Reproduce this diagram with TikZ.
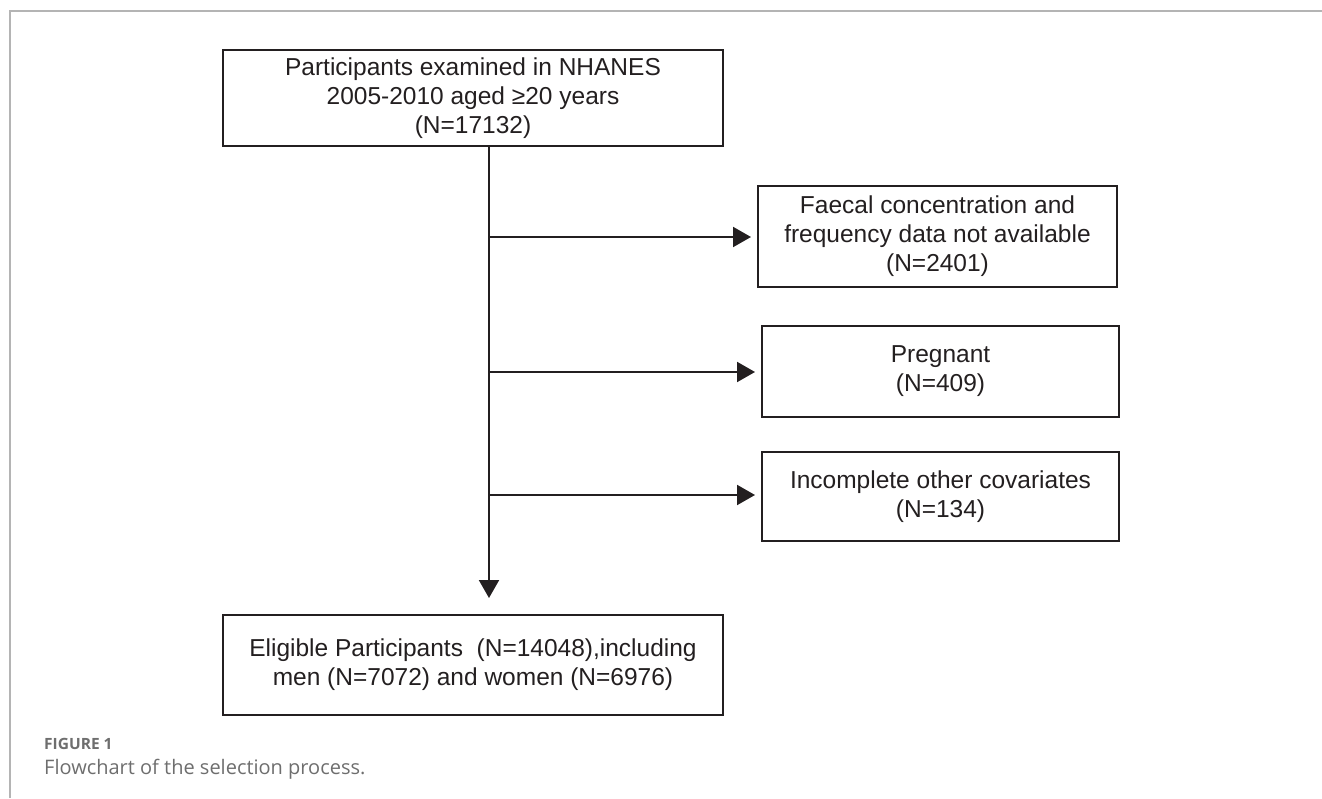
\documentclass[tikz,border=0pt]{standalone}
\usepackage{fontspec}
\usepackage{xcolor}
\usetikzlibrary{arrows.meta}
\setmainfont{Liberation Sans}
\newfontfamily\capfont{Open Sans}
\definecolor{ink}{HTML}{231F20}
\definecolor{framegray}{HTML}{B4B4B4}
\definecolor{capgray}{HTML}{6E6E6E}

\tikzset{
    flowbox/.style={draw=ink, line width=2pt, text=ink, align=center,
        font=\fontsize{24.5}{29}\selectfont, inner sep=0pt},
    flowarrow/.style={draw=ink, line width=2pt,
        -{Triangle[length=18pt,width=20pt]}}
}

\begin{document}
\begin{tikzpicture}[x=1pt,y=-1pt]
    \useasboundingbox (0,0) rectangle (1322,798);
    % Frame
    \draw[framegray, line width=2pt] (10,798) |- (1322,11);

    % Nodes
    \node[flowbox, minimum width=500pt, minimum height=96pt] (top) at (473,98)
        {Participants examined in NHANES\\2005-2010 aged ≥20 years\\(N=17132)};
    \node[flowbox, minimum width=359pt, minimum height=101pt] (fae) at (937.5,236.5)
        {Faecal concentration and\\frequency data not available\\(N=2401)};
    \node[flowbox, minimum width=357pt, minimum height=91pt] (preg) at (940.5,371.5)
        {Pregnant\\(N=409)};
    \node[flowbox, minimum width=357pt, minimum height=89pt] (cov) at (940.5,496.5)
        {Incomplete other covariates\\(N=134)};
    \node[flowbox, minimum width=500pt, minimum height=100pt] (elig) at (473,665)
        {Eligible Participants\ \ (N=14048),including\\men (N=7072) and women (N=6976)};

    % Trunk points
    \coordinate (trunk) at (489,0);
    \coordinate (j1) at (489,237);
    \coordinate (j2) at (489,372);
    \coordinate (j3) at (489,495);

    % Edges
    \path[flowarrow, shorten >=16pt] (top.south -| trunk) -- (elig.north -| trunk);
    \path[flowarrow, shorten >=6pt] (j1) -- (j1 -| fae.west);
    \path[flowarrow, shorten >=6pt] (j2) -- (j2 -| preg.west);
    \path[flowarrow, shorten >=6pt] (j3) -- (j3 -| cov.west);

    % Caption
    \node[anchor=base west, text=capgray, inner sep=0pt] (figno) at (44,749)
        {\capfont\bfseries\fontsize{15.5}{18}\selectfont FIGURE 1};
    \node[anchor=base west, text=capgray, inner sep=0pt] (figcap) at (44,774)
        {\capfont\fontsize{20}{23}\selectfont Flowchart of the selection process.};
\end{tikzpicture}
\end{document}
